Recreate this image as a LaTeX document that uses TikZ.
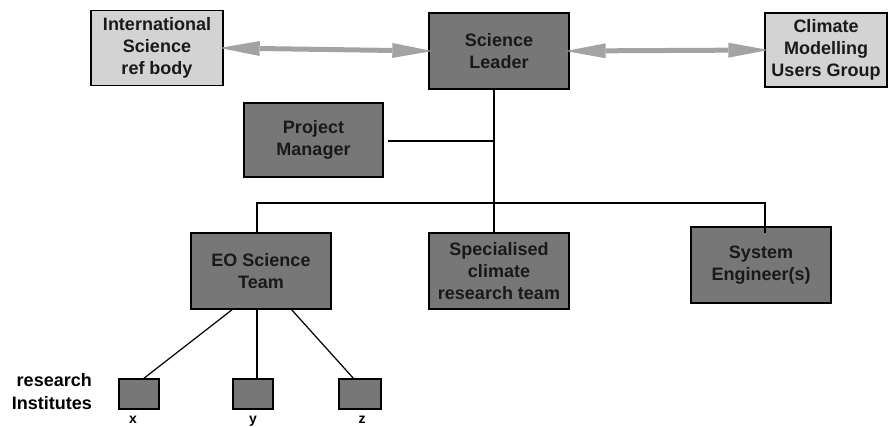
\documentclass[tikz,border=0pt]{standalone}
\usepackage{fontspec}
\setmainfont{Liberation Sans}
\usetikzlibrary{arrows.meta}
\definecolor{darkbox}{HTML}{777777}
\definecolor{lightbox}{HTML}{D3D3D3}
\definecolor{arrowgray}{HTML}{A3A3A3}
\tikzset{
  base/.style={draw=black, line width=1.4pt, rectangle, inner sep=0pt, align=center,
    font=\fontsize{18}{22}\selectfont\bfseries, text=black!90},
  darkrole/.style={base, fill=darkbox, minimum width=140pt, minimum height=76pt},
  lightrole/.style={base, fill=lightbox},
  inst/.style={draw=black, line width=1.4pt, fill=darkbox, minimum width=40pt, minimum height=30pt, inner sep=0pt},
  link/.style={draw=black, line width=1.2pt},
  twoway/.style={draw=arrowgray, line width=5pt, shorten <=-4pt, shorten >=-4pt,
    {Triangle[length=40pt,width=15pt,line width=0pt]}-{Triangle[length=40pt,width=15pt,line width=0pt]}},
  lbl/.style={font=\fontsize{18}{23}\selectfont\bfseries, align=right, inner sep=0pt},
  small/.style={font=\fontsize{14}{16}\selectfont\bfseries, inner sep=0pt}
}
\begin{document}
\begin{tikzpicture}[x=1pt,y=-1pt]
\useasboundingbox (0,0) rectangle (888,427);
\node[lightrole, minimum width=132pt, minimum height=75pt] (isb) at (157,48) {International\\Science\\ref body};
\node[darkrole] (sl) at (499,51) {Science\\Leader};
\node[lightrole, minimum width=122pt, minimum height=74pt] (cm) at (826,50) {Climate\\Modelling\\Users Group};
\node[darkrole, minimum width=139pt, minimum height=74pt] (pm) at (313.5,140) {Project\\Manager};
\node[darkrole] (eo) at (261,271) {EO Science\\Team};
\node[darkrole] (sp) at (499,271) {Specialised\\climate\\research team};
\node[darkrole] (se) at (761,265) {System\\Engineer(s)};
\node[inst] (xb) at (139,394) {};
\node[inst] (yb) at (253,394) {};
\node[inst, minimum width=42pt] (zb) at (360,394) {};
\node[lbl, anchor=east] (ri) at (92,392) {research\\Institutes};
\node[small, anchor=base] (xl) at (133,423) {x};
\node[small, anchor=base] (yl) at (253,423) {y};
\node[small, anchor=base] (zl) at (362,423) {z};

\coordinate (top) at (494,89);
\coordinate (pmj) at (494,141);
\coordinate (pmOut) at (388,141);
\coordinate (barL) at (257,203);
\coordinate (barR) at (765,203);
\coordinate (seIn) at (765,233);
\coordinate (spIn) at (494,233);
\coordinate (eoIn) at (257,233);
\coordinate (eoA) at (233,309);
\coordinate (eoB) at (257,309);
\coordinate (eoC) at (291,309);
\coordinate (xIn) at (143,379);
\coordinate (yIn) at (257,379);
\coordinate (zIn) at (354,379);

\draw[twoway] (isb.east) -- (sl.west);
\draw[twoway] (sl.east) -- (cm.west);

\draw[link] (top) -- (spIn);
\draw[link] (pmOut) -- (pmj);
\draw[link] (eoIn) -- (barL) -- (barR) -- (seIn);

\draw[link] (eoA) -- (xIn);
\draw[link] (eoB) -- (yIn);
\draw[link] (eoC) -- (zIn);
\end{tikzpicture}
\end{document}
